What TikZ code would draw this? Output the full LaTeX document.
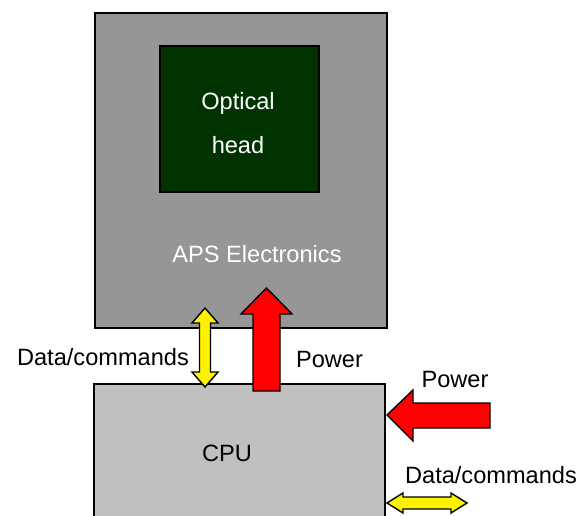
\documentclass[tikz,border=0pt]{standalone}
\usepackage{fontspec}
\setmainfont{Liberation Sans}
\begin{document}
\begin{tikzpicture}[x=1pt,y=-1pt,
  box/.style={draw=black,line width=1.6pt},
  blockarrow/.style={draw=black,line width=1.4pt,line join=miter},
  lbl/.style={anchor=base,inner sep=0pt,font=\fontsize{23.6}{28}\selectfont},
  wlbl/.style={lbl,text=white}]
\definecolor{apsgray}{HTML}{969696}
\definecolor{cpugray}{HTML}{C0C0C0}
\definecolor{headgreen}{HTML}{003300}
\useasboundingbox (0,0) rectangle (579,515);
\clip (0,0) rectangle (579,515);
% boxes
\path[box,fill=apsgray] (95,13) rectangle (387,328);
\path[box,fill=headgreen] (160,46) rectangle (319,192);
\path[box,fill=cpugray] (94,384) rectangle (385,530);
% texts
\node[wlbl] (optical) at (238,109) {Optical};
\node[wlbl] (head) at (238,153) {head};
\node[wlbl] (aps) at (257,262) {APS Electronics};
\node[lbl] (cpu) at (227,461) {CPU};
\node[lbl] (dc1) at (103,365) {Data/commands};
\node[lbl] (pw1) at (329.5,367) {Power};
\node[lbl] (pw2) at (455,387) {Power};
\node[lbl] (dc2) at (491,483) {Data/commands};
% yellow vertical double arrow
\path[blockarrow,fill=yellow] (205,308) -- (218,323) -- (210.5,323) -- (210.5,372) -- (218,372) -- (205,387) -- (192,372) -- (199.5,372) -- (199.5,323) -- (192,323) -- cycle;
% red up arrow
\path[blockarrow,fill=red] (266.5,288) -- (292,314) -- (280,314) -- (280,391) -- (253,391) -- (253,314) -- (241,314) -- cycle;
% red left arrow
\path[blockarrow,fill=red] (387,415) -- (413,390) -- (413,403) -- (490,403) -- (490,428) -- (413,428) -- (413,441) -- cycle;
% yellow horizontal double arrow
\path[blockarrow,fill=yellow] (387,503) -- (403,493) -- (403,497) -- (451,497) -- (451,493) -- (467,503) -- (451,513) -- (451,509) -- (403,509) -- (403,513) -- cycle;
\end{tikzpicture}
\end{document}
